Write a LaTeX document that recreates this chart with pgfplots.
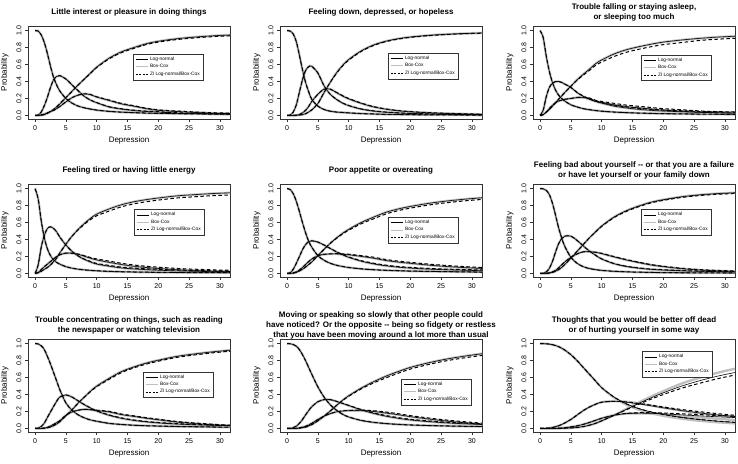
\documentclass[border=0pt]{standalone}
\usepackage{fontspec}
\setmainfont{Liberation Sans}
\usepackage{pgfplots}
\usepackage{pgfplotstable}
\pgfplotsset{compat=1.18}
\definecolor{lgray}{RGB}{190,190,190}

\pgfplotstableread{
x p0 p1 p2 p3 z0 z1 z2 z3
0 1 0 0 0 1 0 0 0
0.5 0.995 0.005 0 0 0.995 0.005 0 0
1 0.95 0.04 0.007 0.003 0.95 0.04 0.007 0.003
1.5 0.86 0.115 0.015 0.01 0.86 0.115 0.015 0.01
2 0.73 0.215 0.03 0.025 0.73 0.215 0.03 0.025
2.5 0.58 0.33 0.045 0.045 0.58 0.33 0.045 0.045
3 0.45 0.42 0.06 0.07 0.45 0.42 0.06 0.07
3.5 0.36 0.46 0.08 0.10 0.36 0.46 0.08 0.10
4 0.29 0.47 0.105 0.135 0.29 0.47 0.105 0.135
5 0.20 0.43 0.16 0.21 0.20 0.43 0.16 0.21
6 0.145 0.36 0.21 0.285 0.145 0.36 0.21 0.285
7 0.11 0.29 0.24 0.36 0.11 0.29 0.24 0.36
8 0.09 0.225 0.255 0.43 0.09 0.225 0.255 0.43
9 0.075 0.18 0.245 0.50 0.075 0.181 0.247 0.497
10 0.063 0.15 0.217 0.57 0.063 0.152 0.22 0.565
12 0.048 0.10 0.177 0.675 0.048 0.103 0.182 0.667
14 0.039 0.075 0.136 0.75 0.039 0.079 0.142 0.74
16 0.033 0.058 0.109 0.80 0.033 0.062 0.115 0.79
18 0.028 0.047 0.08 0.845 0.028 0.051 0.086 0.835
20 0.025 0.04 0.06 0.875 0.025 0.044 0.066 0.865
23 0.021 0.028 0.046 0.905 0.021 0.032 0.052 0.895
26 0.018 0.022 0.035 0.925 0.018 0.026 0.041 0.915
29 0.016 0.018 0.026 0.94 0.016 0.022 0.032 0.93
32 0.014 0.015 0.021 0.95 0.014 0.019 0.027 0.94
}\tabA

\pgfplotstableread{
x p0 p1 p2 p3 z0 z1 z2 z3
0 1 0 0 0 1 0 0 0
0.5 0.995 0.005 0 0 0.995 0.005 0 0
1 0.96 0.04 0 0 0.96 0.04 0 0
1.5 0.87 0.125 0.003 0.002 0.87 0.125 0.003 0.002
2 0.71 0.275 0.01 0.005 0.71 0.275 0.01 0.005
2.5 0.54 0.42 0.03 0.01 0.54 0.42 0.03 0.01
3 0.39 0.53 0.06 0.02 0.39 0.53 0.06 0.02
3.5 0.28 0.575 0.105 0.04 0.28 0.575 0.105 0.04
4 0.19 0.58 0.165 0.065 0.19 0.58 0.165 0.065
5 0.11 0.50 0.25 0.14 0.11 0.50 0.25 0.14
6 0.07 0.35 0.31 0.27 0.07 0.35 0.31 0.27
7 0.05 0.25 0.31 0.39 0.05 0.25 0.31 0.39
8 0.04 0.19 0.27 0.50 0.04 0.192 0.273 0.495
9 0.035 0.145 0.23 0.59 0.035 0.148 0.234 0.583
10 0.03 0.115 0.195 0.66 0.03 0.118 0.20 0.652
12 0.022 0.075 0.143 0.76 0.022 0.077 0.147 0.754
14 0.017 0.052 0.101 0.83 0.017 0.054 0.105 0.824
16 0.013 0.038 0.074 0.875 0.013 0.04 0.077 0.87
18 0.011 0.029 0.055 0.905 0.011 0.031 0.058 0.90
20 0.009 0.023 0.043 0.925 0.009 0.025 0.045 0.921
23 0.007 0.017 0.031 0.945 0.007 0.019 0.033 0.941
26 0.006 0.013 0.023 0.958 0.006 0.014 0.025 0.955
29 0.005 0.011 0.017 0.967 0.005 0.012 0.019 0.964
32 0.004 0.009 0.013 0.974 0.004 0.01 0.015 0.971
}\tabB

\pgfplotstableread{
x p0 p1 p2 p3 z0 z1 z2 z3
0 1 0 0 0 1 0 0 0
0.5 0.92 0.06 0.01 0.01 0.92 0.06 0.01 0.01
1 0.70 0.22 0.04 0.04 0.70 0.22 0.04 0.04
1.5 0.52 0.33 0.08 0.07 0.52 0.33 0.08 0.07
2 0.39 0.38 0.12 0.11 0.39 0.38 0.12 0.11
2.5 0.30 0.40 0.15 0.15 0.30 0.40 0.15 0.15
3 0.24 0.40 0.17 0.19 0.24 0.40 0.17 0.19
3.5 0.20 0.39 0.18 0.23 0.20 0.39 0.18 0.23
4 0.17 0.37 0.19 0.27 0.17 0.37 0.19 0.27
5 0.125 0.33 0.20 0.345 0.125 0.33 0.20 0.345
6 0.10 0.27 0.21 0.42 0.10 0.272 0.213 0.415
7 0.08 0.225 0.21 0.485 0.08 0.229 0.216 0.475
8 0.068 0.19 0.197 0.545 0.068 0.196 0.206 0.53
9 0.058 0.165 0.167 0.61 0.058 0.173 0.179 0.59
10 0.05 0.145 0.15 0.655 0.05 0.155 0.165 0.63
12 0.04 0.11 0.125 0.725 0.04 0.122 0.143 0.695
14 0.033 0.088 0.104 0.775 0.033 0.10 0.122 0.745
16 0.028 0.072 0.09 0.81 0.028 0.084 0.108 0.78
18 0.024 0.06 0.076 0.84 0.024 0.072 0.094 0.81
20 0.021 0.052 0.062 0.865 0.021 0.064 0.08 0.835
23 0.018 0.043 0.049 0.89 0.018 0.055 0.067 0.86
26 0.016 0.036 0.038 0.91 0.016 0.046 0.053 0.885
29 0.014 0.031 0.03 0.925 0.014 0.041 0.045 0.90
32 0.012 0.027 0.026 0.935 0.012 0.037 0.041 0.91
}\tabC

\pgfplotstableread{
x p0 p1 p2 p3 z0 z1 z2 z3
0 1 0 0 0 1 0 0 0
0.5 0.88 0.10 0.012 0.008 0.88 0.10 0.012 0.008
1 0.62 0.31 0.045 0.025 0.62 0.31 0.045 0.025
1.5 0.42 0.45 0.08 0.05 0.42 0.45 0.08 0.05
2 0.29 0.53 0.11 0.07 0.29 0.53 0.11 0.07
2.5 0.21 0.55 0.14 0.10 0.21 0.55 0.14 0.10
3 0.16 0.53 0.17 0.14 0.16 0.53 0.17 0.14
3.5 0.13 0.49 0.20 0.18 0.13 0.49 0.20 0.18
4 0.11 0.43 0.22 0.24 0.11 0.43 0.22 0.24
5 0.08 0.335 0.24 0.345 0.08 0.335 0.24 0.345
6 0.062 0.26 0.238 0.44 0.062 0.26 0.238 0.44
7 0.05 0.205 0.225 0.52 0.05 0.207 0.228 0.515
8 0.042 0.165 0.203 0.59 0.042 0.169 0.209 0.58
9 0.036 0.135 0.179 0.65 0.036 0.141 0.188 0.635
10 0.031 0.11 0.159 0.70 0.031 0.118 0.171 0.68
12 0.024 0.085 0.131 0.76 0.024 0.095 0.146 0.735
14 0.02 0.065 0.105 0.81 0.02 0.075 0.12 0.785
16 0.017 0.053 0.085 0.845 0.017 0.063 0.10 0.82
18 0.015 0.045 0.07 0.87 0.015 0.055 0.085 0.845
20 0.013 0.038 0.059 0.89 0.013 0.048 0.074 0.865
23 0.011 0.03 0.044 0.915 0.011 0.04 0.059 0.89
26 0.01 0.025 0.035 0.93 0.01 0.035 0.05 0.905
29 0.009 0.021 0.027 0.943 0.009 0.031 0.042 0.918
32 0.008 0.018 0.022 0.952 0.008 0.028 0.037 0.927
}\tabD

\pgfplotstableread{
x p0 p1 p2 p3 z0 z1 z2 z3
0 1 0 0 0 1 0 0 0
0.5 0.99 0.008 0.001 0.001 0.99 0.008 0.001 0.001
1 0.94 0.05 0.006 0.004 0.94 0.05 0.006 0.004
1.5 0.85 0.12 0.018 0.012 0.85 0.12 0.018 0.012
2 0.73 0.20 0.04 0.03 0.73 0.20 0.04 0.03
2.5 0.60 0.28 0.07 0.05 0.60 0.28 0.07 0.05
3 0.48 0.34 0.105 0.075 0.48 0.34 0.105 0.075
3.5 0.38 0.375 0.14 0.105 0.38 0.375 0.14 0.105
4 0.31 0.385 0.17 0.135 0.31 0.385 0.17 0.135
5 0.21 0.37 0.21 0.21 0.21 0.37 0.21 0.21
6 0.155 0.335 0.225 0.285 0.155 0.335 0.225 0.285
7 0.12 0.295 0.23 0.355 0.12 0.295 0.23 0.355
8 0.097 0.255 0.23 0.418 0.097 0.257 0.233 0.413
9 0.082 0.22 0.225 0.473 0.082 0.223 0.23 0.465
10 0.07 0.19 0.22 0.52 0.07 0.194 0.226 0.51
12 0.054 0.145 0.201 0.60 0.054 0.151 0.21 0.585
14 0.044 0.113 0.18 0.663 0.044 0.121 0.192 0.643
16 0.037 0.09 0.153 0.72 0.037 0.098 0.165 0.70
18 0.032 0.074 0.134 0.76 0.032 0.082 0.146 0.74
20 0.028 0.063 0.119 0.79 0.028 0.071 0.131 0.77
23 0.024 0.051 0.098 0.827 0.024 0.059 0.11 0.807
26 0.021 0.043 0.081 0.855 0.021 0.051 0.093 0.835
29 0.018 0.037 0.068 0.877 0.018 0.045 0.08 0.857
32 0.016 0.032 0.057 0.895 0.016 0.04 0.069 0.875
}\tabE

\pgfplotstableread{
x p0 p1 p2 p3 z0 z1 z2 z3
0 1 0 0 0 1 0 0 0
0.5 0.998 0.002 0 0 0.998 0.002 0 0
1 0.98 0.018 0.001 0.001 0.98 0.018 0.001 0.001
1.5 0.93 0.06 0.006 0.004 0.93 0.06 0.006 0.004
2 0.83 0.14 0.018 0.012 0.83 0.14 0.018 0.012
2.5 0.69 0.25 0.035 0.025 0.69 0.25 0.035 0.025
3 0.54 0.35 0.065 0.045 0.54 0.35 0.065 0.045
3.5 0.42 0.41 0.10 0.07 0.42 0.41 0.10 0.07
4 0.32 0.44 0.135 0.105 0.32 0.44 0.135 0.105
5 0.19 0.44 0.19 0.18 0.19 0.44 0.19 0.18
6 0.12 0.39 0.23 0.26 0.12 0.39 0.23 0.26
7 0.08 0.325 0.255 0.34 0.08 0.325 0.255 0.34
8 0.058 0.265 0.257 0.42 0.058 0.265 0.257 0.42
9 0.045 0.215 0.25 0.49 0.045 0.215 0.25 0.49
10 0.036 0.17 0.234 0.56 0.036 0.172 0.237 0.555
12 0.025 0.115 0.195 0.665 0.025 0.117 0.199 0.659
14 0.019 0.082 0.159 0.74 0.019 0.085 0.164 0.732
16 0.015 0.062 0.128 0.795 0.015 0.065 0.133 0.787
18 0.012 0.048 0.10 0.84 0.012 0.051 0.105 0.832
20 0.01 0.04 0.08 0.87 0.01 0.043 0.085 0.862
23 0.008 0.031 0.056 0.905 0.008 0.034 0.061 0.897
26 0.007 0.025 0.04 0.928 0.007 0.028 0.045 0.92
29 0.006 0.021 0.03 0.943 0.006 0.024 0.035 0.935
32 0.005 0.018 0.024 0.953 0.005 0.021 0.029 0.945
}\tabF

\pgfplotstableread{
x p0 p1 p2 p3 z0 z1 z2 z3
0 1 0 0 0 1 0 0 0
0.5 0.997 0.003 0 0 0.997 0.003 0 0
1 0.975 0.023 0.001 0.001 0.975 0.023 0.001 0.001
1.5 0.93 0.063 0.004 0.003 0.93 0.063 0.004 0.003
2 0.85 0.13 0.012 0.008 0.85 0.13 0.012 0.008
2.5 0.76 0.195 0.028 0.017 0.76 0.195 0.028 0.017
3 0.66 0.26 0.047 0.033 0.66 0.26 0.047 0.033
3.5 0.56 0.32 0.068 0.052 0.56 0.32 0.068 0.052
4 0.46 0.37 0.09 0.08 0.46 0.37 0.09 0.08
5 0.30 0.395 0.155 0.15 0.30 0.395 0.155 0.15
6 0.215 0.37 0.195 0.22 0.215 0.37 0.195 0.22
7 0.16 0.325 0.215 0.30 0.16 0.325 0.215 0.30
8 0.125 0.28 0.225 0.37 0.125 0.28 0.225 0.37
9 0.10 0.24 0.22 0.44 0.10 0.242 0.223 0.435
10 0.085 0.205 0.21 0.50 0.085 0.208 0.215 0.492
12 0.06 0.155 0.195 0.59 0.06 0.16 0.202 0.578
14 0.047 0.12 0.163 0.67 0.047 0.125 0.17 0.658
16 0.038 0.095 0.142 0.725 0.038 0.10 0.149 0.713
18 0.032 0.078 0.12 0.77 0.032 0.083 0.127 0.758
20 0.028 0.065 0.102 0.805 0.028 0.07 0.109 0.793
23 0.023 0.052 0.075 0.85 0.023 0.057 0.082 0.838
26 0.02 0.043 0.057 0.88 0.02 0.048 0.064 0.868
29 0.017 0.036 0.042 0.905 0.017 0.041 0.049 0.893
32 0.015 0.031 0.029 0.925 0.015 0.036 0.036 0.913
}\tabG

\pgfplotstableread{
x p0 p1 p2 p3 z0 z1 z2 z3
0 1 0 0 0 1 0 0 0
0.5 0.999 0.001 0 0 0.999 0.001 0 0
1 0.99 0.009 0.001 0 0.99 0.009 0.001 0
1.5 0.97 0.027 0.002 0.001 0.97 0.027 0.002 0.001
2 0.93 0.06 0.006 0.004 0.93 0.06 0.006 0.004
2.5 0.87 0.105 0.015 0.01 0.87 0.105 0.015 0.01
3 0.80 0.16 0.025 0.015 0.80 0.16 0.025 0.015
3.5 0.72 0.21 0.04 0.03 0.72 0.21 0.04 0.03
4 0.64 0.255 0.06 0.045 0.64 0.255 0.06 0.045
5 0.49 0.315 0.105 0.09 0.49 0.315 0.105 0.09
6 0.37 0.34 0.145 0.145 0.37 0.34 0.145 0.145
7 0.28 0.34 0.175 0.205 0.28 0.34 0.175 0.205
8 0.215 0.32 0.195 0.27 0.215 0.32 0.195 0.27
9 0.168 0.295 0.205 0.332 0.168 0.296 0.207 0.329
10 0.135 0.27 0.21 0.385 0.135 0.272 0.213 0.38
12 0.095 0.22 0.21 0.475 0.095 0.224 0.216 0.465
14 0.072 0.178 0.20 0.55 0.072 0.184 0.209 0.535
16 0.058 0.145 0.182 0.615 0.058 0.153 0.194 0.595
18 0.048 0.12 0.162 0.67 0.048 0.128 0.174 0.65
20 0.041 0.10 0.139 0.72 0.041 0.108 0.151 0.70
23 0.034 0.08 0.111 0.775 0.034 0.088 0.123 0.755
26 0.029 0.065 0.086 0.82 0.029 0.073 0.098 0.80
29 0.025 0.054 0.066 0.855 0.025 0.062 0.078 0.835
32 0.022 0.045 0.048 0.885 0.022 0.053 0.06 0.865
}\tabH

\pgfplotstableread{
x p0 p1 p2 p3 g0 g1 g2 g3 z0 z1 z2 z3
0 1 0 0 0 1 0 0 0 1 0 0 0
0.5 1 0 0 0 1 0 0 0 1 0 0 0
1 0.998 0.002 0 0 0.998 0.002 0 0 0.998 0.002 0 0
1.5 0.995 0.005 0 0 0.995 0.005 0 0 0.995 0.005 0 0
2 0.988 0.011 0.001 0 0.988 0.011 0.001 0 0.988 0.011 0.001 0
2.5 0.978 0.02 0.002 0 0.978 0.02 0.002 0 0.978 0.02 0.002 0
3 0.965 0.031 0.003 0.001 0.965 0.031 0.003 0.001 0.965 0.031 0.003 0.001
3.5 0.947 0.046 0.005 0.002 0.947 0.046 0.005 0.002 0.947 0.046 0.005 0.002
4 0.925 0.064 0.008 0.003 0.925 0.064 0.008 0.003 0.925 0.064 0.008 0.003
5 0.87 0.106 0.018 0.006 0.87 0.106 0.018 0.006 0.87 0.106 0.018 0.006
6 0.80 0.158 0.03 0.012 0.80 0.158 0.03 0.012 0.80 0.158 0.03 0.012
7 0.72 0.21 0.048 0.022 0.72 0.21 0.048 0.022 0.72 0.21 0.048 0.022
8 0.64 0.252 0.07 0.038 0.64 0.252 0.07 0.038 0.64 0.252 0.07 0.038
9 0.56 0.285 0.095 0.06 0.56 0.285 0.095 0.06 0.56 0.285 0.095 0.06
10 0.48 0.31 0.12 0.09 0.48 0.31 0.12 0.09 0.48 0.31 0.12 0.09
12 0.37 0.32 0.155 0.155 0.365 0.322 0.158 0.155 0.37 0.32 0.155 0.155
14 0.29 0.31 0.175 0.225 0.28 0.315 0.175 0.23 0.29 0.313 0.177 0.22
16 0.235 0.29 0.18 0.295 0.222 0.295 0.178 0.305 0.235 0.295 0.185 0.285
18 0.195 0.267 0.178 0.36 0.18 0.27 0.175 0.375 0.195 0.275 0.185 0.345
20 0.165 0.243 0.172 0.42 0.15 0.245 0.165 0.44 0.165 0.253 0.182 0.40
23 0.13 0.21 0.16 0.50 0.115 0.21 0.145 0.53 0.13 0.223 0.172 0.475
26 0.105 0.182 0.148 0.565 0.09 0.18 0.13 0.60 0.105 0.197 0.163 0.535
29 0.085 0.158 0.137 0.62 0.072 0.155 0.113 0.66 0.085 0.173 0.152 0.59
32 0.07 0.138 0.127 0.665 0.058 0.135 0.097 0.71 0.07 0.153 0.142 0.635
}\tabI

\pgfplotsset{
  graycurve/.style={lgray, line width=2.4pt, smooth, forget plot},
  blackcurve/.style={black, line width=0.6pt, smooth, forget plot},
  zicurve/.style={black, line width=1pt, dash pattern=on 3.5pt off 2.5pt, smooth, forget plot},
  panel/.style={
    scale only axis, width=202pt, height=93pt,
    xmin=-1.15, xmax=31.64, ymin=-0.042, ymax=1.055,
    xtick={0,5,10,15,20,25,30}, xticklabels={0,5,10,15,20,25,30},
    ytick={0,0.2,0.4,0.6,0.8,1}, yticklabels={0.0,0.2,0.4,0.6,0.8,1.0},
    tick align=outside, tick pos=left, major tick length=3pt,
    tick style={black!80, line width=0.4pt},
    axis line style={black!80, line width=0.5pt},
    ticklabel style={font=\fontsize{7}{8}\selectfont},
    yticklabel style={rotate=90, anchor=south},
    xlabel={Depression}, ylabel={Probability},
    label style={font=\fontsize{8}{9.5}\selectfont},
    xlabel style={at={(axis description cs:0.5,-0.23)}, anchor=center},
    ylabel style={at={(axis description cs:-0.115,0.5)}, anchor=center},
    every axis title shift=0pt,
    title style={at={(axis description cs:0.5,1.15)}, anchor=center, yshift=0pt, align=center,
      font=\bfseries\fontsize{8}{10}\selectfont},
    legend style={font=\fontsize{4.8}{5.4}\selectfont, draw=black!80, line width=0.4pt,
      inner xsep=1.8pt, inner ysep=1pt, row sep=-1.6pt, anchor=north west},
    legend cell align=left,
    legend image code/.code={\draw[##1] (0pt,0pt) -- (12pt,0pt);},
  },
}

\newcommand{\drawcurves}[2]{%
  \pgfplotsinvokeforeach{0,1,2,3}{\addplot[graycurve] table[x=x,y=#2##1]{#1};}
  \pgfplotsinvokeforeach{0,1,2,3}{\addplot[blackcurve] table[x=x,y=p##1]{#1};}
  \pgfplotsinvokeforeach{0,1,2,3}{\addplot[zicurve] table[x=x,y=z##1]{#1};}
  \addlegendimage{black, line width=0.5pt}\addlegendentry{Log-normal}
  \addlegendimage{lgray, line width=1pt}\addlegendentry{Box-Cox}
  \addlegendimage{black, line width=0.7pt, dash pattern=on 2pt off 1.5pt}\addlegendentry{ZI Log-normal/Box-Cox}
}

\begin{document}
\begin{tikzpicture}
\useasboundingbox (0,0) rectangle (738pt,463pt);

\begin{axis}[panel, at={(28pt,344pt)}, anchor=south west,
  title={Little interest or pleasure in doing things},
  legend style={at={(rel axis cs:0.52,0.70)}}]
\drawcurves{\tabA}{p}
\end{axis}

\begin{axis}[panel, at={(280pt,344pt)}, anchor=south west,
  title={Feeling down, depressed, or hopeless},
  legend style={at={(rel axis cs:0.535,0.71)}}]
\drawcurves{\tabB}{p}
\end{axis}

\begin{axis}[panel, at={(533pt,344pt)}, anchor=south west,
  title={Trouble falling or staying asleep,\\ or sleeping too much},
  legend style={at={(rel axis cs:0.535,0.69)}}]
\drawcurves{\tabC}{p}
\end{axis}

\begin{axis}[panel, at={(28pt,186pt)}, anchor=south west,
  title={Feeling tired or having little energy},
  legend style={at={(rel axis cs:0.525,0.73)}}]
\drawcurves{\tabD}{p}
\end{axis}

\begin{axis}[panel, at={(280pt,186pt)}, anchor=south west,
  title={Poor appetite or overeating},
  legend style={at={(rel axis cs:0.535,0.645)}}]
\drawcurves{\tabE}{p}
\end{axis}

\begin{axis}[panel, at={(533pt,186pt)}, anchor=south west,
  title={Feeling bad about yourself -{}- or that you are a failure\\ or have let yourself or your family down},
  legend style={at={(rel axis cs:0.535,0.73)}}]
\drawcurves{\tabF}{p}
\end{axis}

\begin{axis}[panel, at={(28pt,31pt)}, anchor=south west,
  title={Trouble concentrating on things, such as reading\\ the newspaper or watching television},
  legend style={at={(rel axis cs:0.57,0.65)}}]
\drawcurves{\tabG}{p}
\end{axis}

\begin{axis}[panel, at={(280pt,31pt)}, anchor=south west,
  title={Moving or speaking so slowly that other people could\\ have noticed? Or the opposite -{}- being so fidgety or restless\\ that you have been moving around a lot more than usual},
  legend style={at={(rel axis cs:0.60,0.57)}}]
\drawcurves{\tabH}{p}
\end{axis}

\begin{axis}[panel, at={(533pt,31pt)}, anchor=south west,
  title={Thoughts that you would be better off dead\\ or of hurting yourself in some way},
  legend style={at={(rel axis cs:0.54,0.87)}}]
\drawcurves{\tabI}{g}
\end{axis}

\end{tikzpicture}
\end{document}
